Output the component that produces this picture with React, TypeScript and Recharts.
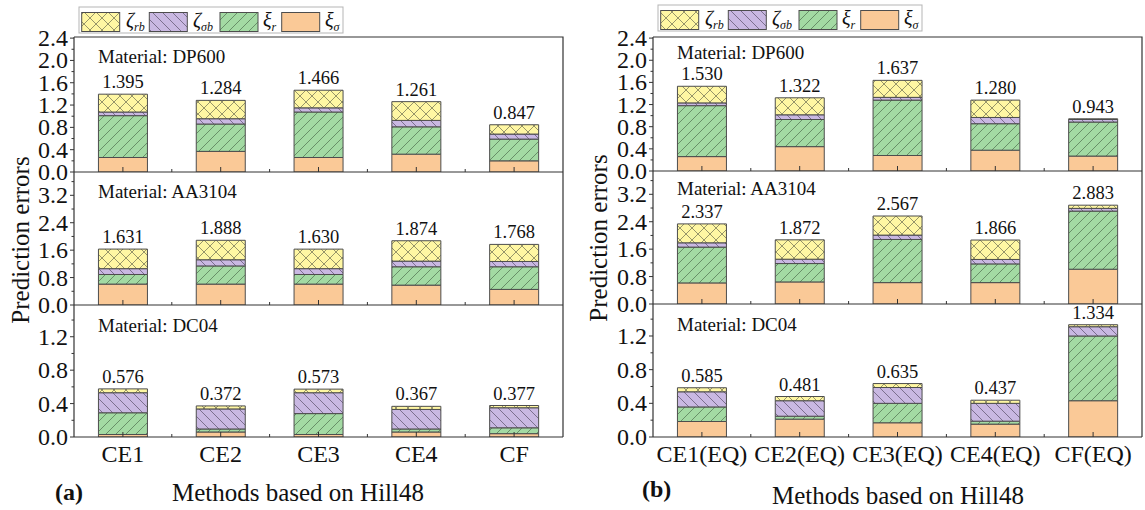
import React from "react";
import { BarChart, Bar, XAxis, YAxis, LabelList } from "recharts";

const FONT = '"Liberation Serif", "Times New Roman", serif';
const INK = "#333333";
const EDGE = "#4d4d4d";

// category labels
const methodsA = ["CE1", "CE2", "CE3", "CE4", "CF"];
const methodsB = ["CE1(EQ)", "CE2(EQ)", "CE3(EQ)", "CE4(EQ)", "CF(EQ)"];

// (a) DP600
const aDpSigma = [0.26, 0.37, 0.26, 0.32, 0.2];
const aDpR = [0.75, 0.49, 0.815, 0.49, 0.39];
const aDpSb = [0.065, 0.095, 0.075, 0.115, 0.09];
const aDpRb = [0.32, 0.329, 0.316, 0.336, 0.167];
const aDpTotal = [1.395, 1.284, 1.466, 1.261, 0.847];

// (a) AA3104
const aAaSigma = [0.61, 0.61, 0.61, 0.58, 0.455];
const aAaR = [0.28, 0.53, 0.28, 0.535, 0.66];
const aAaSb = [0.17, 0.18, 0.17, 0.165, 0.155];
const aAaRb = [0.571, 0.568, 0.57, 0.594, 0.498];
const aAaTotal = [1.631, 1.888, 1.63, 1.874, 1.768];

// (a) DC04
const aDcSigma = [0.03, 0.06, 0.03, 0.06, 0.04];
const aDcR = [0.26, 0.036, 0.25, 0.036, 0.07];
const aDcSb = [0.24, 0.24, 0.25, 0.234, 0.24];
const aDcRb = [0.046, 0.036, 0.043, 0.037, 0.027];
const aDcTotal = [0.576, 0.372, 0.573, 0.367, 0.377];

// (b) DP600
const bDpSigma = [0.26, 0.44, 0.28, 0.376, 0.27];
const bDpR = [0.92, 0.49, 1.0, 0.478, 0.614];
const bDpSb = [0.05, 0.085, 0.05, 0.113, 0.046];
const bDpRb = [0.3, 0.307, 0.307, 0.313, 0.013];
const bDpTotal = [1.53, 1.322, 1.637, 1.28, 0.943];

// (b) AA3104
const bAaSigma = [0.615, 0.644, 0.624, 0.624, 1.015];
const bAaR = [1.045, 0.536, 1.259, 0.546, 1.695];
const bAaSb = [0.125, 0.127, 0.127, 0.13, 0.08];
const bAaRb = [0.552, 0.565, 0.557, 0.566, 0.093];
const bAaTotal = [2.337, 1.872, 2.567, 1.866, 2.883];

// (b) DC04
const bDcSigma = [0.184, 0.212, 0.169, 0.153, 0.431];
const bDcR = [0.173, 0.035, 0.231, 0.035, 0.769];
const bDcSb = [0.18, 0.184, 0.188, 0.212, 0.11];
const bDcRb = [0.048, 0.05, 0.047, 0.037, 0.024];
const bDcTotal = [0.585, 0.481, 0.635, 0.437, 1.334];

// y ticks per material
const dpMajor = [0, 0.4, 0.8, 1.2, 1.6, 2.0, 2.4];
const dpMinor = [0.2, 0.6, 1.0, 1.4, 1.8, 2.2];
const aaMajor = [0, 0.8, 1.6, 2.4, 3.2];
const aaMinor = [0.4, 1.2, 2.0, 2.8, 3.6];
const dcMajor = [0, 0.4, 0.8, 1.2];
const dcMinor = [0.2, 0.6, 1.0, 1.4];

const materials = ["DP600", "AA3104", "DC04"];

function rows(
  names: string[],
  sigma: number[],
  r: number[],
  sb: number[],
  rb: number[],
  total: number[]
) {
  return names.map((name, i) => ({
    name,
    sigma: sigma[i],
    r: r[i],
    sb: sb[i],
    rb: rb[i],
    total: total[i],
  }));
}

const panelA = [
  rows(methodsA, aDpSigma, aDpR, aDpSb, aDpRb, aDpTotal),
  rows(methodsA, aAaSigma, aAaR, aAaSb, aAaRb, aAaTotal),
  rows(methodsA, aDcSigma, aDcR, aDcSb, aDcRb, aDcTotal),
];
const panelB = [
  rows(methodsB, bDpSigma, bDpR, bDpSb, bDpRb, bDpTotal),
  rows(methodsB, bAaSigma, bAaR, bAaSb, bAaRb, bAaTotal),
  rows(methodsB, bDcSigma, bDcR, bDcSb, bDcRb, bDcTotal),
];

const yScales = [
  { domain: [0, 2.42], major: dpMajor, minor: dpMinor },
  { domain: [0, 3.88], major: aaMajor, minor: aaMinor },
  { domain: [0, 1.58], major: dcMajor, minor: dcMinor },
];

const H = 510;

function Patterns() {
  return (
    <svg width={0} height={0} style={{ position: "absolute" }}>
      <defs>
        <pattern id="hatchR" patternUnits="userSpaceOnUse" width={10} height={10}>
          <rect width={10} height={10} fill="#A3DAA3" />
          <path d="M-1,1 l2,-2 M0,10 l10,-10 M9,11 l2,-2" stroke="#4f6f4f" strokeWidth={0.7} />
        </pattern>
        <pattern id="hatchSB" patternUnits="userSpaceOnUse" width={10} height={10}>
          <rect width={10} height={10} fill="#C9B8E2" />
          <path d="M-1,9 l2,2 M0,0 l10,10 M9,-1 l2,2" stroke="#5a4f6a" strokeWidth={0.7} />
        </pattern>
        <pattern id="hatchRB" patternUnits="userSpaceOnUse" width={12} height={12}>
          <rect width={12} height={12} fill="#FFF7A3" />
          <path
            d="M0,0 l12,12 M-1,11 l2,2 M11,-1 l2,2 M0,12 l12,-12 M-1,1 l2,-2 M11,13 l2,-2"
            stroke="#6a6a50"
            strokeWidth={0.7}
          />
        </pattern>
      </defs>
    </svg>
  );
}

function YTick(props: any) {
  const { x, y, payload, major } = props;
  const isMajor = major.some((m: number) => Math.abs(m - payload.value) < 1e-6);
  return (
    <g>
      <line x1={x - (isMajor ? 4 : 2.5)} x2={x} y1={y} y2={y} stroke={INK} strokeWidth={1} />
      {isMajor && (
        <text
          x={x - 6}
          y={y}
          dy={8}
          textAnchor="end"
          style={{ fontFamily: FONT }}
          fontSize={24}
          fill="#111"
        >
          {payload.value.toFixed(1)}
        </text>
      )}
    </g>
  );
}

function XTick(props: any) {
  const { x, y, payload, index, bw, showLabel, count } = props;
  return (
    <g>
      <line x1={x} x2={x} y1={y} y2={y - 5} stroke={INK} strokeWidth={1} />
      {index < count - 1 && (
        <line x1={x + bw / 2} x2={x + bw / 2} y1={y} y2={y - 3} stroke={INK} strokeWidth={1} />
      )}
      {showLabel && (
        <text
          x={x}
          y={y + 25}
          textAnchor="middle"
          style={{ fontFamily: FONT }}
          fontSize={24}
          fill="#111"
        >
          {payload.value}
        </text>
      )}
    </g>
  );
}

function SubChart({ data, scale, top, bottom, width, yWidth, right, last }: any) {
  const bw = (width - yWidth - right) / data.length;
  const xh = last ? 40 : 1;
  return (
    <div style={{ position: "absolute", left: 0, top: 0 }}>
      <BarChart
        width={width}
        height={H}
        data={data}
        margin={{ top, right, bottom: H - bottom - xh, left: 0 }}
        barCategoryGap="25%"
      >
        <XAxis
          dataKey="name"
          height={xh}
          interval={0}
          tickSize={0}
          tickMargin={0}
          tickLine={false}
          axisLine={{ stroke: INK, strokeWidth: 1.2 }}
          tick={<XTick bw={bw} showLabel={last} count={data.length} />}
        />
        <YAxis
          width={yWidth}
          domain={scale.domain}
          ticks={[...scale.major, ...scale.minor].filter((t: number) => t <= scale.domain[1])}
          interval={0}
          allowDataOverflow
          tickSize={0}
          tickMargin={0}
          tickLine={false}
          axisLine={{ stroke: INK, strokeWidth: 1.2 }}
          tick={<YTick major={scale.major} />}
        />
        <Bar dataKey="sigma" stackId="s" fill="#FAC997" stroke={EDGE} strokeWidth={1} isAnimationActive={false} />
        <Bar dataKey="r" stackId="s" fill="url(#hatchR)" stroke={EDGE} strokeWidth={1} isAnimationActive={false} />
        <Bar dataKey="sb" stackId="s" fill="url(#hatchSB)" stroke={EDGE} strokeWidth={1} isAnimationActive={false} />
        <Bar dataKey="rb" stackId="s" fill="url(#hatchRB)" stroke={EDGE} strokeWidth={1} isAnimationActive={false}>
          <LabelList
            dataKey="total"
            position="top"
            offset={6}
            formatter={(v: any) => Number(v).toFixed(3)}
            style={{ fontFamily: FONT, fontSize: 18.5, fill: "#111" }}
          />
        </Bar>
      </BarChart>
    </div>
  );
}

function Panel({ data, left, width, yWidth, right, bounds }: any) {
  return (
    <div style={{ position: "absolute", left, top: 0, width, height: H }}>
      {data.map((d: any, i: number) => (
        <SubChart
          key={i}
          data={d}
          scale={yScales[i]}
          top={bounds[i]}
          bottom={bounds[i + 1]}
          width={width}
          yWidth={yWidth}
          right={right}
          last={i === data.length - 1}
        />
      ))}
    </div>
  );
}

const legendItems = [
  { fill: "url(#hatchRB)", sym: "ζ", sub: "rb", sx: 2.7, lx: 47 },
  { fill: "url(#hatchSB)", sym: "ζ", sub: "σb", sx: 70.3, lx: 114 },
  { fill: "url(#hatchR)", sym: "ξ", sub: "r", sx: 141, lx: 184 },
  { fill: "#FAC997", sym: "ξ", sub: "σ", sx: 202.7, lx: 246 },
];

function LegendBox({ x, y }: { x: number; y: number }) {
  return (
    <g>
      <rect x={x} y={y} width={264} height={26} fill="#fff" stroke="#b5b5b5" strokeWidth={1} />
      {legendItems.map((it) => (
        <g key={it.sub}>
          <rect x={x + it.sx} y={y + 5.5} width={38} height={19} fill={it.fill} stroke={EDGE} strokeWidth={1} />
          <text x={x + it.lx} y={y + 20} fontSize={20} fontStyle="italic" fill="#111">
            {it.sym}
            <tspan fontSize={12} dy={4}>
              {it.sub}
            </tspan>
          </text>
        </g>
      ))}
    </g>
  );
}

// frame edges: [plotLeft, plotRight, top, bottom] in page pixels
const frameA = [74, 563, 37, 437];
const frameB = [653, 1142, 37, 437];
const boundsA = [37, 172, 305, 437];
const boundsB = [37, 171, 304, 437];
const matBaseA = [63, 198, 331.5];
const matBaseB = [58.5, 195, 330.5];

function Frame({ f }: { f: number[] }) {
  return (
    <path
      d={`M${f[0]},${f[2]} H${f[1]} V${f[3]}`}
      fill="none"
      stroke={INK}
      strokeWidth={1.2}
    />
  );
}

export default function App() {
  return (
    <div style={{ position: "absolute", left: 0, top: 0, width: 1145, height: H, background: "#fff" }}>
      <Patterns />
      <Panel data={panelA} left={0} width={580} yWidth={74} right={17} bounds={boundsA} />
      <Panel data={panelB} left={572} width={573} yWidth={81} right={3} bounds={boundsB} />
      <svg
        width={1145}
        height={H}
        style={{ position: "absolute", left: 0, top: 0, pointerEvents: "none", fontFamily: FONT }}
      >
        <Frame f={frameA} />
        <Frame f={frameB} />
        <LegendBox x={79} y={7} />
        <LegendBox x={658} y={5} />
        {materials.map((m, i) => (
          <g key={m}>
            <text x={98} y={matBaseA[i]} fontSize={19} fill="#111">
              Material: {m}
            </text>
            <text x={677} y={matBaseB[i]} fontSize={19} fill="#111">
              Material: {m}
            </text>
          </g>
        ))}
        <text transform="translate(29,240) rotate(-90)" textAnchor="middle" fontSize={25} fill="#111">
          Prediction errors
        </text>
        <text transform="translate(607,238) rotate(-90)" textAnchor="middle" fontSize={25} fill="#111">
          Prediction errors
        </text>
        <text x={298} y={501} textAnchor="middle" fontSize={25} fill="#111">
          Methods based on Hill48
        </text>
        <text x={898} y={504} textAnchor="middle" fontSize={25} fill="#111">
          Methods based on Hill48
        </text>
        <text x={55} y={500} fontSize={24} fontWeight="bold" fill="#111">
          (a)
        </text>
        <text x={642} y={497} fontSize={24} fontWeight="bold" fill="#111">
          (b)
        </text>
      </svg>
    </div>
  );
}
